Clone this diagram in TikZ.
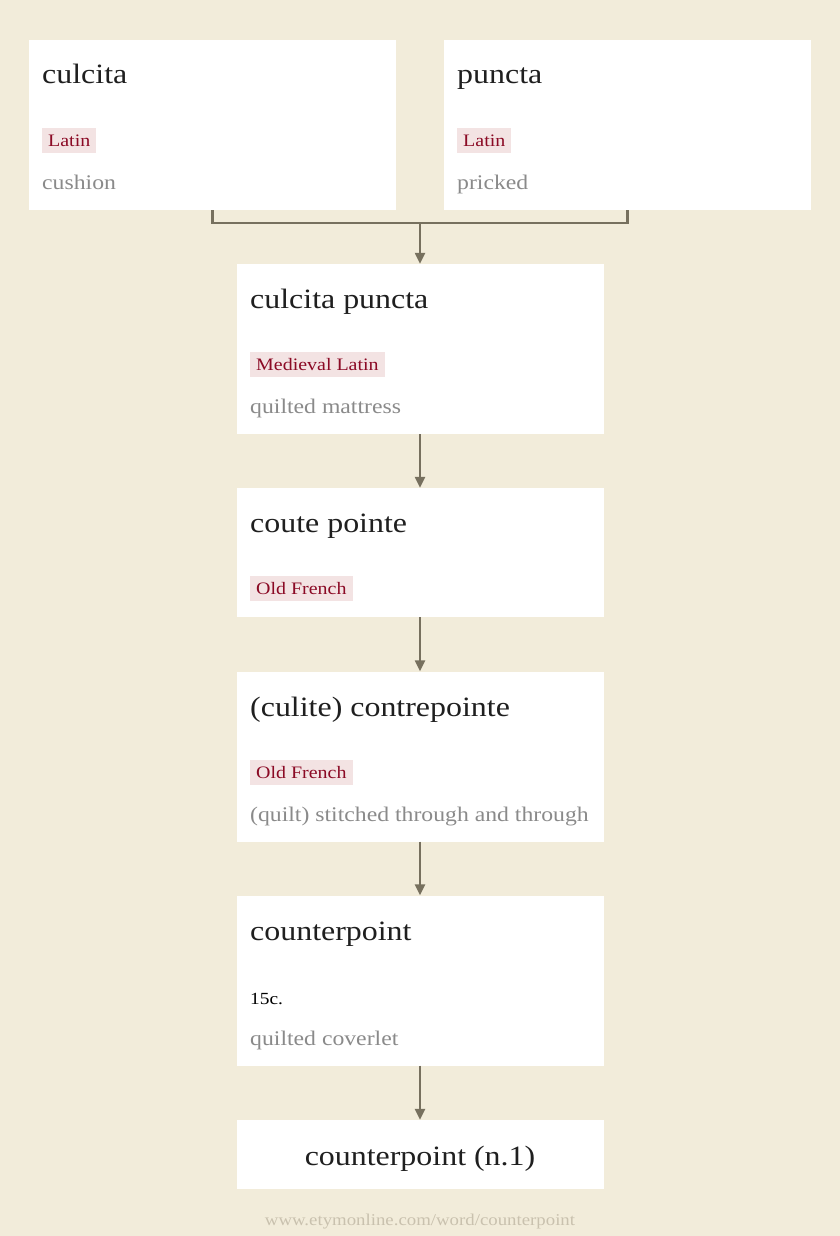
\documentclass[tikz,border=0pt]{standalone}
\usepackage{fontspec}
\setmainfont[FakeStretch=1.14]{Liberation Serif}
\usetikzlibrary{arrows.meta}
\definecolor{pagebg}{HTML}{F2ECDA}
\definecolor{linkgray}{HTML}{77705E}
\definecolor{tagbg}{HTML}{F3E3E3}
\definecolor{tagred}{HTML}{8B0A25}
\definecolor{glossgray}{HTML}{8A8A8A}
\definecolor{footgray}{HTML}{C9C1AE}
\tikzset{
  card/.style={fill=white, inner sep=0pt, minimum width=367pt},
  headword/.style={anchor=base west, inner sep=0pt, text=black!88, font=\fontsize{28}{32}\selectfont},
  tagbox/.style={anchor=west, fill=tagbg, text=tagred, inner xsep=6pt, inner ysep=0pt,
    minimum height=25pt, text height=14pt, text depth=2pt, font=\fontsize{17.5}{20}\selectfont},
  gloss/.style={anchor=base west, inner sep=0pt, text=glossgray, font=\fontsize{20.8}{24}\selectfont},
  link/.style={draw=linkgray, line width=2.3pt},
  linkarrow/.style={link, -{Triangle[width=10pt,length=11pt]}}
}
\begin{document}
\begin{tikzpicture}[x=1pt,y=-1pt]
  \fill[pagebg] (0,0) rectangle (840,1236);
  \useasboundingbox (0,0) rectangle (840,1236);
  \node[card, minimum height=170pt] (culcita) at (212.5,125) {};
  \node[card, minimum height=170pt] (puncta) at (627.5,125) {};
  \node[card, minimum height=170pt] (cpuncta) at (420,349) {};
  \node[card, minimum height=129pt] (coute) at (420,552.5) {};
  \node[card, minimum height=170pt] (contre) at (420,756.5) {};
  \node[card, minimum height=170pt] (counter) at (420,980.5) {};
  \node[card, minimum height=69pt] (noun) at (420,1154.5) {};
  \node[headword] (culcita-w) at (42,84) {culcita};
  \node[tagbox] (culcita-l) at (42,140.5) {Latin};
  \node[gloss] (culcita-g) at (42,189) {cushion};
  \node[headword] (puncta-w) at (457,84) {puncta};
  \node[tagbox] (puncta-l) at (457,140.5) {Latin};
  \node[gloss] (puncta-g) at (457,189) {pricked};
  \node[headword] (cpuncta-w) at (250,308) {culcita puncta};
  \node[tagbox] (cpuncta-l) at (250,364.5) {Medieval Latin};
  \node[gloss] (cpuncta-g) at (250,413) {quilted mattress};
  \node[headword] (coute-w) at (250,532) {coute pointe};
  \node[tagbox] (coute-l) at (250,588.5) {Old French};
  \node[headword] (contre-w) at (250,716) {(culite) contrepointe};
  \node[tagbox] (contre-l) at (250,772.5) {Old French};
  \node[gloss] (contre-g) at (250,821) {(quilt) stitched through and through};
  \node[headword] (counter-w) at (250,940) {counterpoint};
  \node[anchor=base west, inner sep=0pt, font=\fontsize{17}{20}\selectfont] (counter-d) at (250,1004) {15c.};
  \node[gloss] (counter-g) at (250,1045) {quilted coverlet};
  \node[headword, anchor=base] (noun-w) at (420,1165) {counterpoint (n.1)};
  \node[anchor=base, text=footgray, font=\fontsize{16.5}{18}\selectfont] (foot) at (420,1225) {www.etymonline.com/word/counterpoint};
  \coordinate (join) at (420,223);
  \draw[link] (culcita.south) |- (join) -| (puncta.south);
  \draw[linkarrow] (join) -- (cpuncta.north);
  \draw[linkarrow] (cpuncta) -- (coute);
  \draw[linkarrow] (coute) -- (contre);
  \draw[linkarrow] (contre) -- (counter);
  \draw[linkarrow] (counter) -- (noun);
\end{tikzpicture}
\end{document}
